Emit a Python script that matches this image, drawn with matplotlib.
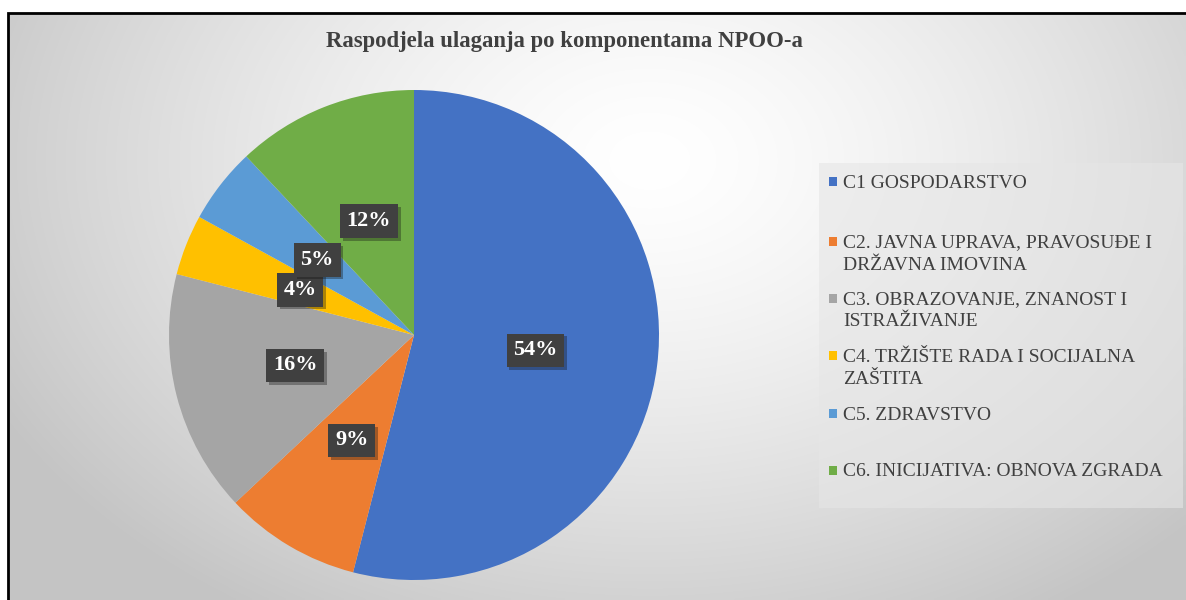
import numpy as np
import matplotlib
matplotlib.use("Agg")
import matplotlib.pyplot as plt
from matplotlib.patches import Rectangle
import matplotlib.patheffects as pe

# ---- data ----
categories = [
    "C1 GOSPODARSTVO",
    "C2. JAVNA UPRAVA, PRAVOSUĐE I\nDRŽAVNA IMOVINA",
    "C3. OBRAZOVANJE, ZNANOST I\nISTRAŽIVANJE",
    "C4. TRŽIŠTE RADA I SOCIJALNA\nZAŠTITA",
    "C5. ZDRAVSTVO",
    "C6. INICIJATIVA: OBNOVA ZGRADA",
]
shares = [54, 9, 16, 4, 5, 12]
colors = ["#4472C4", "#ED7D31", "#A5A5A5", "#FFC000", "#5B9BD5", "#70AD47"]
title = "Raspodjela ulaganja po komponentama NPOO-a"

W, H = 1186, 600
fig = plt.figure(figsize=(W / 100, H / 100), dpi=100)
fig.patch.set_facecolor("white")

def fx(px):
    return px / W

def fy(py):
    return 1 - py / H

# ---- background gradient inside frame ----
bg = fig.add_axes([fx(8), 0, 1 - fx(8), fy(13)])
xx, yy = np.meshgrid(np.linspace(8, W, 400), np.linspace(13, H, 200))
d = np.sqrt(((xx - 650) / 720) ** 2 + ((yy - 160) / 520) ** 2)
v = 1 - 0.22 * np.clip(d, 0, 1.3) ** 1.4
v = np.clip(v, 0.77, 1)
bg.imshow(np.dstack([v, v, v]), aspect="auto", extent=[0, 1, 0, 1], interpolation="bilinear")
bg.set_axis_off()

# frame (left and top visible)
fig.patches.append(Rectangle((fx(8), fy(H + 20)), 1.2, fy(13) - fy(H + 20), transform=fig.transFigure,
                             fill=False, edgecolor="black", linewidth=2, zorder=10))

# ---- pie ----
cx, cy, r = 414, 335, 245
ax = fig.add_axes([fx(cx - r), fy(cy + r), fx(2 * r), (2 * r) / H])
wedges, texts, autotexts = ax.pie(
    shares, colors=colors, startangle=90, counterclock=False,
    autopct="%1.0f%%", pctdistance=0.5, radius=1,
    wedgeprops=dict(linewidth=0),
    textprops=dict(color="white", fontsize=16, fontweight="bold", family="Liberation Serif"),
)
ax.set_xlim(-1, 1)
ax.set_ylim(-1, 1)
ax.set_axis_off()
for t in autotexts:
    t.set_bbox(dict(boxstyle="square,pad=0.3", facecolor="#404040", edgecolor="none"))
    t.get_bbox_patch().set_path_effects([pe.SimplePatchShadow(offset=(2, -2), alpha=0.35), pe.Normal()])

# ---- title ----
fig.text(fx(564), fy(47), title, ha="center", va="baseline", fontsize=16.4, fontweight="bold",
         family="Liberation Serif", color="#404040")

# ---- legend ----
fig.patches.append(Rectangle((fx(819), fy(508)), fx(1183 - 819), fy(163) - fy(508), transform=fig.transFigure,
                             facecolor="#e6e6e6", alpha=0.6, edgecolor="none", zorder=2))
line_centers = [[181], [241, 263], [298, 320], [355, 378], [413], [470]]
for cat, col, ys in zip(categories, colors, line_centers):
    lines = cat.split("\n")
    fig.patches.append(Rectangle((fx(829), fy(ys[0] + 5)), fx(8), 9 / H, transform=fig.transFigure,
                                 facecolor=col, edgecolor="none", zorder=3))
    for ln, yc in zip(lines, ys):
        fig.text(fx(843), fy(yc + 6.5), ln, ha="left", va="baseline", fontsize=14,
                 family="Liberation Serif", color="#404040", zorder=4)

fig.savefig("out.png", dpi=100)
